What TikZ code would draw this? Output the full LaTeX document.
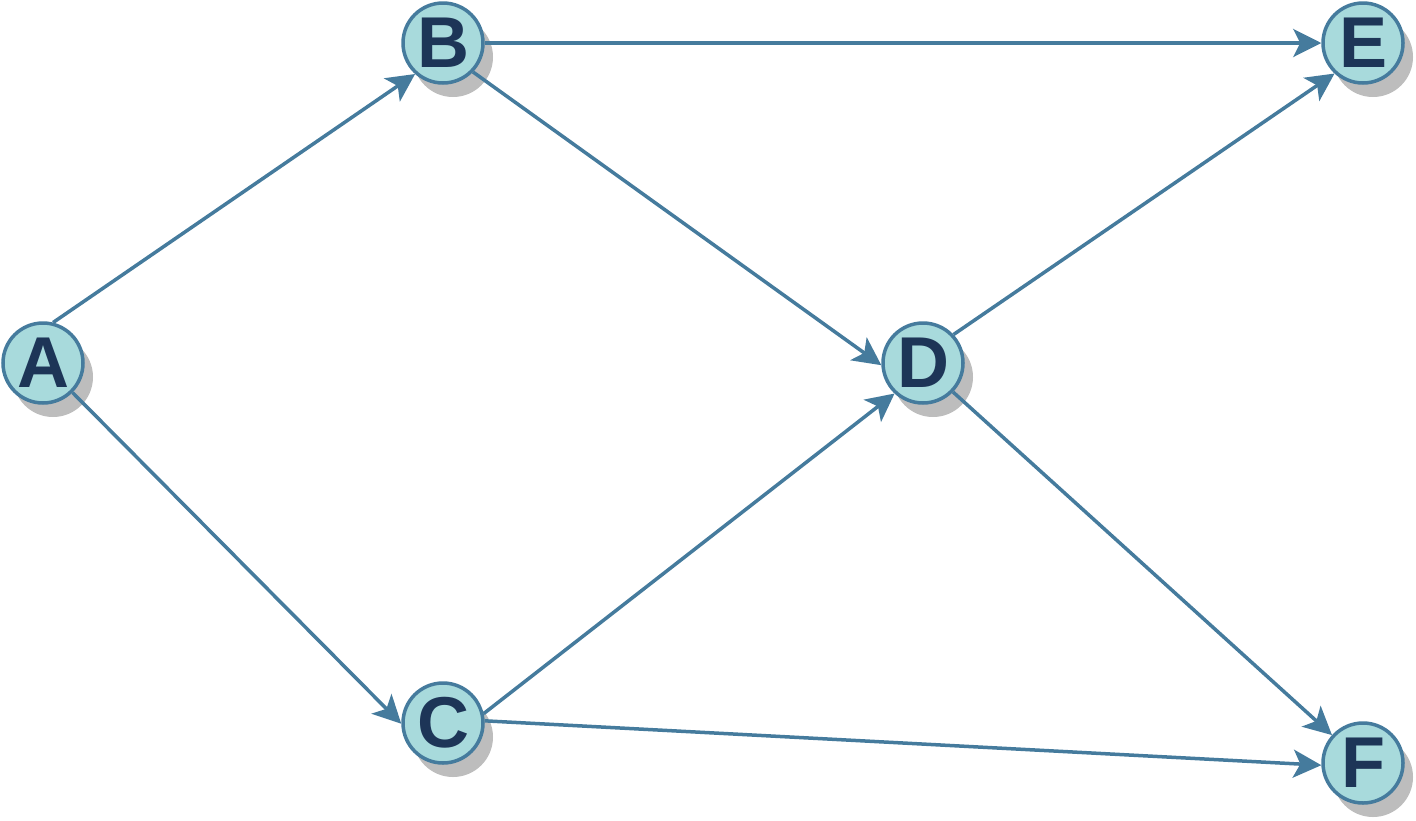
\documentclass[tikz,border=0pt]{standalone}
\usepackage{fontspec}
\setmainfont{Liberation Sans}
\usetikzlibrary{arrows.meta,shadows}
\definecolor{nodefill}{HTML}{A8DADC}
\definecolor{nodeline}{HTML}{457B9D}
\definecolor{nodetext}{HTML}{1D3557}
\definecolor{shadowgray}{HTML}{BDBDBD}

\begin{document}
\begin{tikzpicture}[x=1pt,y=-1pt,
  vertex/.style={circle, draw=nodeline, fill=nodefill, line width=3.5pt,
    minimum size=80pt, inner sep=0pt, text=nodetext,
    font=\fontsize{72}{72}\selectfont\bfseries,
    drop shadow={shadow xshift=10pt, shadow yshift=-14pt, fill=shadowgray, opacity=1}},
  link/.style={draw=nodeline, line width=3.5pt,
    -{Stealth[length=28pt,width=28pt,inset=7pt]}}]
  \useasboundingbox (0,0) rectangle (1416,820);

  % Nodes
  \node[vertex] (A) at (43,363) {A};
  \node[vertex] (B) at (443,43) {B};
  \node[vertex] (C) at (443,723) {C};
  \node[vertex] (D) at (923,363) {D};
  \node[vertex] (E) at (1363,43) {E};
  \node[vertex] (F) at (1363,763) {F};

  % Edges
  \draw[link] (A.76) -- (B.228);
  \draw[link] (A.-45) -- (C.181);

  \draw[link] (B.0) -- (E.180);
  \draw[link] (B.-44) -- (D.183);

  \draw[link] (C.13) -- (D.227);
  \draw[link] (C.3) -- (F.183);

  \draw[link] (D.43) -- (E.227);
  \draw[link] (D.-44) -- (F.138);
\end{tikzpicture}
\end{document}
